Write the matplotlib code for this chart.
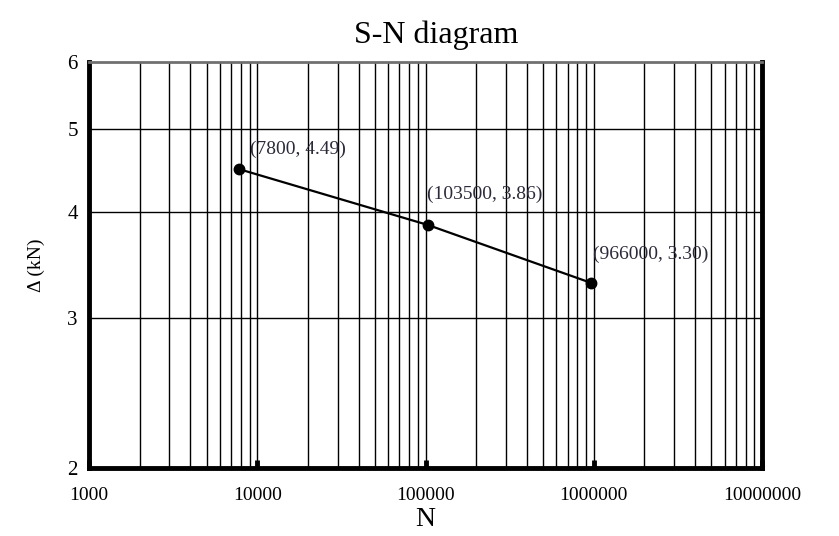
import matplotlib
matplotlib.use("Agg")
import matplotlib.pyplot as plt
from matplotlib.ticker import FixedLocator, NullFormatter, FixedFormatter

# data
cycles = [7800, 103500, 966000]
loads = [4.49, 3.86, 3.30]
labels = ["(7800, 4.49)", "(103500, 3.86)", "(966000, 3.30)"]
x_ticks = [1000, 10000, 100000, 1000000, 10000000]
x_tick_labels = ["1000", "10000", "100000", "1000000", "10000000"]
y_ticks = [2, 3, 4, 5, 6]
y_tick_labels = ["2", "3", "4", "5", "6"]

plt.rcParams['font.family'] = ['Liberation Serif', 'DejaVu Serif']

fig = plt.figure(figsize=(8.39, 5.36), dpi=100)
ax = fig.add_axes([89/839, 68/536, 673/839, 406/536])
ax.set_xscale('log')
ax.set_yscale('log')
ax.set_xlim(1000, 1e7)
ax.set_ylim(2, 6)

# grid lines
minor_x = [m * 10**e for e in range(3, 7) for m in range(2, 10)]
for xv in minor_x + x_ticks[1:-1]:
    ax.axvline(xv, color='black', lw=1.0, zorder=1)
for yv in y_ticks[1:-1]:
    ax.axhline(yv, color='black', lw=1.0, zorder=1)

ax.plot(cycles, loads, color='black', lw=1.6, marker='o', markersize=7.5, zorder=3)

offsets = [(8, 8), (-1, 16), (1, 14)]
for xv, yv, lab, off in zip(cycles, loads, labels, offsets):
    ax.annotate(lab, (xv, yv), xytext=off, textcoords='offset points',
                fontsize=14, color='#2a2a3a', ha='left', va='bottom')

ax.xaxis.set_major_locator(FixedLocator(x_ticks))
ax.xaxis.set_major_formatter(FixedFormatter(x_tick_labels))
ax.xaxis.set_minor_locator(FixedLocator([]))
ax.yaxis.set_major_locator(FixedLocator(y_ticks))
ax.yaxis.set_major_formatter(FixedFormatter(y_tick_labels))
ax.yaxis.set_minor_locator(FixedLocator([]))
ax.yaxis.set_minor_formatter(NullFormatter())
ax.xaxis.set_minor_formatter(NullFormatter())

ax.tick_params(axis='x', direction='in', length=6, width=3.5, labelsize=14, pad=14, colors='black')
ax.tick_params(axis='y', length=0, labelsize=15, pad=8)

for s in ['left', 'bottom', 'right']:
    ax.spines[s].set_linewidth(3.5)
    ax.spines[s].set_color('black')
ax.spines['top'].set_linewidth(2)
ax.spines['top'].set_color('#707070')

fig.text(436/839, 1 - 35/536, "S-N diagram", fontsize=23, ha='center', va='center')
ax.set_xlabel("N", fontsize=20, labelpad=2)
ax.set_ylabel("Δ (kN)", fontsize=14, labelpad=16)

fig.savefig("out.png", dpi=100)
